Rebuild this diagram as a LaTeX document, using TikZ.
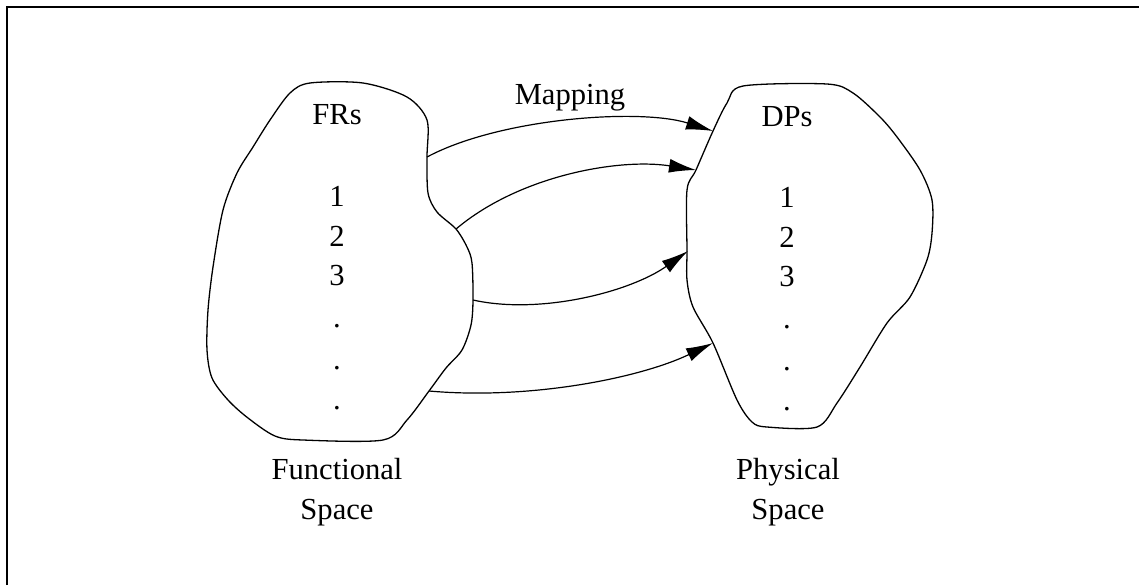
\documentclass[tikz,border=0pt]{standalone}
\usepackage{fontspec}
\setmainfont{Liberation Serif}
\usetikzlibrary{arrows.meta}

\begin{document}
\begin{tikzpicture}[x=0.5pt,y=-0.5pt,
          every node/.style={font=\fontsize{15.3}{20}\selectfont, inner sep=0pt},
          space/.style={line width=0.65pt, line join=round},
          map/.style={line width=0.6pt, -{Latex[length=13.5pt,width=7pt]}},
          label/.style={align=center}]
  \useasboundingbox (0,0) rectangle (1139,585);
  \draw[line width=1pt] (7,585) -- (7,7) -- (1139,7);

  % functional space
  \draw[space] plot[smooth cycle, tension=0.5] coordinates {
    (310,83) (363,83) (407,97) (427,120) (427,157) (428,193) (437,212)
    (456,229) (467,247) (472,263) (473,300) (471,325) (462,350) (446,368)
    (429,391) (407,420) (383,440) (303,440) (275,436) (248,418) (228,400)
    (212,378) (207,350) (208,310) (213,267) (223,210) (237,173) (253,147)
    (270,120) (290,93)};
  % physical space
  \draw[space] plot[smooth cycle, tension=0.5] coordinates {
    (743,86) (827,84) (853,93) (880,117) (897,137) (920,170) (932,200)
    (932,233) (927,260) (910,297) (887,323) (860,367) (837,403) (817,427)
    (767,427) (752,422) (737,400) (713,343) (693,307) (687,280) (687,251)
    (687,190) (696,170) (713,131) (727,103)};

  \coordinate (fr1) at (427,157);
  \coordinate (fr2) at (456,229);
  \coordinate (fr3) at (473,300);
  \coordinate (fr4) at (429,391);
  \coordinate (dp1) at (713,131);
  \coordinate (dp2) at (696,170);
  \coordinate (dp3) at (688,251);
  \coordinate (dp4) at (713,343);

  \node (mapping) at (570,98) {Mapping};

  \node (frs) at (337,115) {FRs};
  \node (fra) at (337,196) {1};
  \node (frb) at (337,236) {2};
  \node (frc) at (337,276) {3};
  \node (frd) at (337,326) {.};
  \node (fre) at (337,368) {.};
  \node (frf) at (337,408) {.};
  \node[label] (functional) at (337,492) {Functional\\Space};

  \node (dps) at (787,117) {DPs};
  \node (dpa) at (787,197) {1};
  \node (dpb) at (787,237) {2};
  \node (dpc) at (787,277) {3};
  \node (dpd) at (787,327) {.};
  \node (dpe) at (787,369) {.};
  \node (dpf) at (787,409) {.};
  \node[label] (physical) at (788,492) {Physical\\Space};

  \draw[map] (fr1) .. controls (500,118) and (640,108) .. (dp1);
  \draw[map] (fr2) .. controls (520,175) and (620,158) .. (dp2);
  \draw[map] (fr3) .. controls (540,315) and (630,292) .. (dp3);
  \draw[map] (fr4) .. controls (530,400) and (640,378) .. (dp4);
\end{tikzpicture}
\end{document}
